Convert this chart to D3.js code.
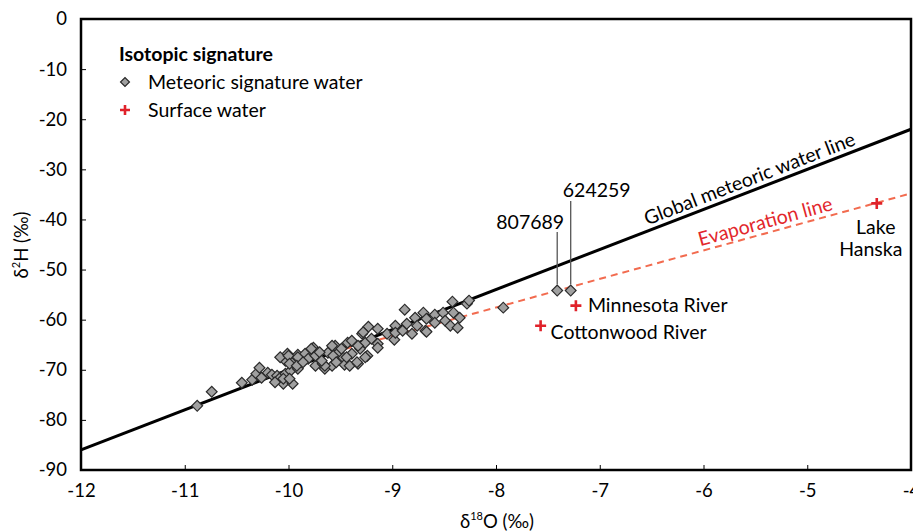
<!DOCTYPE html>
<html><head><meta charset="utf-8">
<script src="https://cdn.jsdelivr.net/npm/d3@7"></script>
<style>
body{margin:0;background:#fff;}
text{font-family:Lato,"Open Sans",sans-serif;}
</style></head>
<body><svg id="c" width="913" height="532"></svg>
<script>
// ---- data ----
const meteoricX = [-10.88,-10.74,-10.45,-10.35,-10.31,-10.28,-10.26,-10.20,-10.16,-10.11,-10.08,-10.03,-10.05,-10.01,-10.03,-9.97,-9.98,-9.91,-9.91,-9.96,-9.84,-9.81,-9.76,-9.72,-9.74,-9.67,-9.65,-9.62,-9.58,-9.55,-9.53,-9.47,-9.46,-9.43,-9.41,-9.39,-9.39,-9.33,-9.31,-9.29,-9.26,-9.24,-9.23,-9.20,-9.14,-9.14,-9.14,-9.05,-8.98,-8.97,-8.97,-8.90,-8.88,-8.86,-8.81,-8.78,-8.76,-8.70,-8.68,-8.67,-8.67,-8.59,-8.59,-8.51,-8.49,-8.44,-8.42,-8.41,-8.37,-8.35,-8.28,-8.26,-7.93,-7.41,-7.28,
  -10.05,-10.13,-9.99,-10.08,-10.00,-9.91,-9.99,-9.92,-9.86,-9.78,-9.74,-9.70,-9.65,-9.68,-9.57,-9.54,-9.58,-9.49,-9.44,-9.33,-9.34,-9.28,-9.26];
const meteoricY = [-77.2,-74.4,-72.6,-72.0,-70.8,-69.6,-71.6,-70.6,-71.0,-71.2,-71.6,-70.8,-72.8,-66.8,-68.2,-68.6,-70.2,-67.0,-69.8,-72.8,-66.8,-67.8,-65.6,-66.6,-69.2,-68.8,-69.8,-66.6,-69.2,-65.2,-66.8,-67.6,-69.0,-64.6,-69.2,-66.8,-64.2,-68.8,-65.8,-62.8,-64.6,-67.2,-61.4,-63.8,-61.8,-64.8,-65.6,-62.8,-64.0,-61.2,-62.6,-62.2,-58.0,-60.8,-62.8,-59.6,-61.2,-58.6,-62.2,-59.8,-62.4,-59.0,-60.6,-58.6,-60.2,-61.2,-56.4,-58.6,-61.6,-59.6,-56.8,-56.2,-57.6,-54.2,-54.2,
  -71.8,-72.5,-71.8,-67.5,-67.2,-67.5,-68.8,-69.2,-68.5,-65.8,-67.2,-66.5,-69.2,-68.2,-67.2,-68.5,-65.2,-65.8,-67.5,-65.2,-68.5,-62.5,-67.5];
const surfaceNames = ["Minnesota River","Cottonwood River","Lake Hanska"];
const surfaceX = [-7.23,-7.57,-4.33];
const surfaceY = [-57.2,-61.2,-36.8];
const sampleIds = ["807689","624259"];
const sampleX = [-7.41,-7.28];
const sampleY = [-54.2,-54.2];
const gmwlX = [-12,-4];
const gmwlY = [-86,-22];
const evapX = [-9.57,-4];
const evapY = [-66.5,-34.8];
const xTicks = [-12,-11,-10,-9,-8,-7,-6,-5,-4];
const xTickLabels = ["-12","-11","-10","-9","-8","-7","-6","-5","-4"];
const yTicks = [0,-10,-20,-30,-40,-50,-60,-70,-80,-90];
const yTickLabels = ["0","-10","-20","-30","-40","-50","-60","-70","-80","-90"];

// ---- chart ----
const svg = d3.select("#c");
const L=81,R=911,T=19,B=470;
const x = d3.scaleLinear().domain([-12,-4]).range([L,R]);
const y = d3.scaleLinear().domain([-90,0]).range([B,T]);

const xa = svg.append("g").attr("transform",`translate(0,${B})`)
  .call(d3.axisBottom(x).tickValues(xTicks).tickSizeInner(-5).tickSizeOuter(0).tickPadding(14)
    .tickFormat((d,i)=>xTickLabels[i]));
const ya = svg.append("g").attr("transform",`translate(${L},0)`)
  .call(d3.axisLeft(y).tickValues(yTicks).tickSizeInner(-5).tickSizeOuter(0).tickPadding(14)
    .tickFormat((d,i)=>yTickLabels[i]));
[xa,ya].forEach(a=>{
  a.select(".domain").remove();
  a.selectAll(".tick line").attr("stroke","#000").attr("stroke-width",1);
  a.selectAll(".tick text").attr("font-size",18.5).attr("fill","#000").style("font-family","Lato,sans-serif");
});

// lines
const line = d3.line().x(d=>x(d[0])).y(d=>y(d[1]));
svg.append("path").attr("d",line(gmwlX.map((v,i)=>[v,gmwlY[i]])))
  .attr("stroke","#000").attr("stroke-width",3).attr("fill","none");
svg.append("path").attr("d",line(evapX.map((v,i)=>[v,evapY[i]])))
  .attr("stroke","#f26b4f").attr("stroke-width",2).attr("stroke-dasharray","7,5").attr("fill","none");

// frame
svg.append("rect").attr("x",L).attr("y",T).attr("width",R-L).attr("height",B-T)
  .attr("fill","none").attr("stroke","#000").attr("stroke-width",2.5);

// diamonds
const diamond = d3.symbol().type(d3.symbolSquare).size(58);
svg.append("g").selectAll("path").data(meteoricX.map((v,i)=>[v,meteoricY[i]])).join("path")
  .attr("d",diamond).attr("transform",d=>`translate(${x(d[0])},${y(d[1])}) rotate(45)`)
  .attr("fill","#a0a0a0").attr("stroke","#2a2a2a").attr("stroke-width",1.2);

// plus markers
function plus(g,cx,cy,s){
  g.append("path").attr("d",`M${cx-s},${cy}H${cx+s}M${cx},${cy-s}V${cy+s}`)
   .attr("stroke","#e0222a").attr("stroke-width",2.6).attr("fill","none");
}
const pg = svg.append("g");
surfaceX.forEach((v,i)=>plus(pg,x(v),y(surfaceY[i]),5.5));

// surface labels
const FS = 19.5;
svg.append("text").attr("x",x(surfaceX[0])+12).attr("y",y(surfaceY[0])+6).attr("font-size",FS).text(surfaceNames[0]);
svg.append("text").attr("x",x(surfaceX[1])+10).attr("y",y(surfaceY[1])+13).attr("font-size",FS).text(surfaceNames[1]);
svg.append("text").attr("x",x(surfaceX[2])-1).attr("y",y(surfaceY[2])+31).attr("font-size",FS).attr("text-anchor","middle").text("Lake");
svg.append("text").attr("x",x(surfaceX[2])-6).attr("y",y(surfaceY[2])+53).attr("font-size",FS).attr("text-anchor","middle").text("Hanska");

// sample callouts
const callTop = [232,201];
const callTextX = [-27,26];
const callTextY = [229,197];
sampleX.forEach((v,i)=>{
  svg.append("line").attr("x1",x(v)).attr("x2",x(v)).attr("y1",callTop[i]).attr("y2",y(sampleY[i])-6)
    .attr("stroke","#555").attr("stroke-width",1.3);
  svg.append("text").attr("x",x(v)+callTextX[i]).attr("y",callTextY[i]).attr("font-size",FS)
    .attr("text-anchor","middle").text(sampleIds[i]);
});

// line labels
const ang1 = Math.atan2(y(gmwlY[1])-y(gmwlY[0]), x(gmwlX[1])-x(gmwlX[0]))*180/Math.PI;
svg.append("text").attr("transform",`translate(752,185) rotate(${ang1})`).attr("text-anchor","middle")
  .attr("font-size",FS).attr("fill","#000").text("Global meteoric water line");
const ang2 = Math.atan2(y(evapY[1])-y(evapY[0]), x(evapX[1])-x(evapX[0]))*180/Math.PI;
svg.append("text").attr("transform",`translate(767,228) rotate(${ang2})`).attr("text-anchor","middle")
  .attr("font-size",FS).attr("fill","#e2262b").text("Evaporation line");

// legend
svg.append("text").attr("x",119).attr("y",61).attr("font-size",19.5).attr("font-weight","bold").text("Isotopic signature");
svg.append("path").attr("d",d3.symbol().type(d3.symbolSquare).size(40)).attr("transform","translate(125,82) rotate(45)")
  .attr("fill","#a0a0a0").attr("stroke","#2a2a2a").attr("stroke-width",1.2);
svg.append("text").attr("x",148).attr("y",89).attr("font-size",FS).text("Meteoric signature water");
plus(svg,125,110,5);
svg.append("text").attr("x",148).attr("y",117).attr("font-size",FS).text("Surface water");

// axis titles
const yt = svg.append("text").attr("transform","translate(28,245) rotate(-90)").attr("text-anchor","middle").attr("font-size",18.5);
yt.append("tspan").text("δ");
yt.append("tspan").attr("font-size",11).attr("dy",-8).text("2");
yt.append("tspan").attr("dy",8).text("H (‰)");
const xt = svg.append("text").attr("x",497).attr("y",528).attr("text-anchor","middle").attr("font-size",18.5);
xt.append("tspan").text("δ");
xt.append("tspan").attr("font-size",11).attr("dy",-8).text("18");
xt.append("tspan").attr("dy",8).text("O (‰)");
</script></body></html>
